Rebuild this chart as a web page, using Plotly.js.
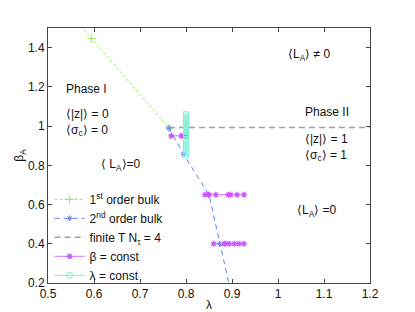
<!DOCTYPE html>
<html>
<head>
<meta charset="utf-8">
<script src="https://cdn.plot.ly/plotly-3.0.1.min.js"></script>
<style>html,body{margin:0;padding:0;background:#fff;}#chart{width:415px;height:312px;}</style>
</head>
<body>
<div id="chart"></div>
<script>
// 1st order bulk transition line
const firstLambda = [0.55, 0.595, 0.763];
const firstBeta   = [1.57, 1.446, 0.99];
// 2nd order bulk transition line
const secondLambda = [0.763, 0.795, 0.85, 0.873, 0.895];
const secondBeta   = [0.99, 0.855, 0.65, 0.40, 0.18];
// finite temperature N_tau = 4
const finiteLambda = [0.763, 1.2];
const finiteBeta   = [0.993, 0.993];
// beta = const scans
const scanB095Lambda = [0.768, 0.79, 0.796, 0.80];
const scanB095Beta   = [0.95, 0.95, 0.95, 0.95];
const scanB065Lambda = [0.841, 0.849, 0.865, 0.892, 0.897, 0.911, 0.926];
const scanB065Beta   = [0.65, 0.65, 0.65, 0.65, 0.65, 0.65, 0.65];
const scanB040Lambda = [0.86, 0.883, 0.886, 0.894, 0.905, 0.915, 0.926];
const scanB040Beta   = [0.40, 0.40, 0.40, 0.40, 0.40, 0.40, 0.40];
// lambda = const scan
const scanLBeta = [0.85, 0.86, 0.87, 0.88, 0.89, 0.90, 0.91, 0.92, 0.93,
                   0.95, 0.96, 0.97, 0.98, 0.99, 1.00, 1.01, 1.02, 1.03, 1.04, 1.05, 1.06];
const scanLLambda = scanLBeta.map(() => 0.80);

const xTicks = [0.5, 0.6, 0.7, 0.8, 0.9, 1.0, 1.1, 1.2];
const xTickText = ["0.5", "0.6", "0.7", "0.8", "0.9", "1", "1.1", "1.2"];
const yTicks = [0.2, 0.4, 0.6, 0.8, 1.0, 1.2, 1.4];
const yTickText = ["0.2", "0.4", "0.6", "0.8", "1", "1.2", "1.4"];

const legendNames = ["1<sup>st</sup> order bulk", "2<sup>nd</sup> order bulk",
                     "finite T N<sub>τ</sub> = 4", "β = const", "λ = const"];

const magLambda = scanB095Lambda.concat([null], scanB065Lambda, [null], scanB040Lambda);
const magBeta = scanB095Beta.concat([null], scanB065Beta, [null], scanB040Beta);

const FONT = "Liberation Sans, Arial, Helvetica, sans-serif";

const traces = [
  {x: firstLambda, y: firstBeta, name: legendNames[0], mode: "lines+markers",
   line: {color: "#90f050", width: 1, dash: "3px,2px"},
   marker: {symbol: "cross-thin-open", size: 6, color: "#90f050", line: {color: "#90f050", width: 1}}},
  {x: secondLambda, y: secondBeta, name: legendNames[1], mode: "lines+markers",
   line: {color: "#6080ff", width: 1, dash: "5px,4px"},
   marker: {symbol: "asterisk-open", size: 5, color: "#6080ff", line: {color: "#6080ff", width: 1}}},
  {x: finiteLambda, y: finiteBeta, name: legendNames[2], mode: "lines",
   line: {color: "#a0a0a0", width: 1.5, dash: "6px,4px"}},
  {x: magLambda, y: magBeta, name: legendNames[3], mode: "lines+markers",
   line: {color: "#d070ff", width: 1},
   marker: {symbol: "asterisk-open", size: 5, color: "#cc55ff", line: {color: "#cc55ff", width: 1.2}}},
  {x: scanLLambda, y: scanLBeta, name: legendNames[4], mode: "lines+markers",
   line: {color: "#80f0d8", width: 1},
   marker: {symbol: "square-open", size: 5, color: "#80f0d8", line: {color: "#80f0d8", width: 1}}}
];

function ann(x, y, text) {
  return {x: x, y: y, xref: "x", yref: "y", text: text, showarrow: false,
          xanchor: "left", yanchor: "middle", align: "left",
          font: {family: FONT, size: 12, color: "#111"}};
}

const layout = {
  width: 415, height: 312,
  margin: {l: 48, r: 45, t: 28, b: 29},
  paper_bgcolor: "#fff", plot_bgcolor: "#fff",
  font: {family: FONT, size: 12, color: "#111"},
  showlegend: true,
  legend: {x: 0.005, y: 0.385, xanchor: "left", yanchor: "top",
           bgcolor: "rgba(0,0,0,0)", font: {family: FONT, size: 12, color: "#111"},
           itemwidth: 30, tracegroupgap: 0},
  xaxis: {range: [0.5, 1.2], tickvals: xTicks, ticktext: xTickText,
          ticks: "inside", ticklen: 4, tickcolor: "#444", showline: true, linecolor: "#444",
          linewidth: 1, mirror: "ticks", showgrid: false, zeroline: false,
          tickfont: {family: FONT, size: 12, color: "#111"},
          title: {text: "λ", font: {family: FONT, size: 12}, standoff: 2}},
  yaxis: {range: [0.2, 1.5], tickvals: yTicks, ticktext: yTickText,
          ticks: "inside", ticklen: 4, tickcolor: "#444", showline: true, linecolor: "#444",
          linewidth: 1, mirror: "ticks", showgrid: false, zeroline: false,
          tickfont: {family: FONT, size: 12, color: "#111"},
          title: {text: "β<sub>A</sub>", font: {family: FONT, size: 12}, standoff: 0}},
  annotations: [
    ann(0.535, 1.19, "Phase I"),
    ann(0.535, 1.02, "⟨|z|⟩ = 0<br>⟨σ<sub>c</sub>⟩ = 0"),
    ann(1.018, 1.36, "⟨L<sub>A</sub>⟩ ≠ 0"),
    ann(1.055, 1.07, "Phase II"),
    ann(1.055, 0.89, "⟨|z|⟩ = 1<br>⟨σ<sub>c</sub>⟩ = 1"),
    ann(0.611, 0.80, "⟨ L<sub>A</sub>⟩=0"),
    ann(1.036, 0.565, "⟨L<sub>A</sub>⟩ =0")
  ]
};

Plotly.newPlot("chart", traces, layout, {displayModeBar: false, staticPlot: true});
</script>
</body>
</html>
